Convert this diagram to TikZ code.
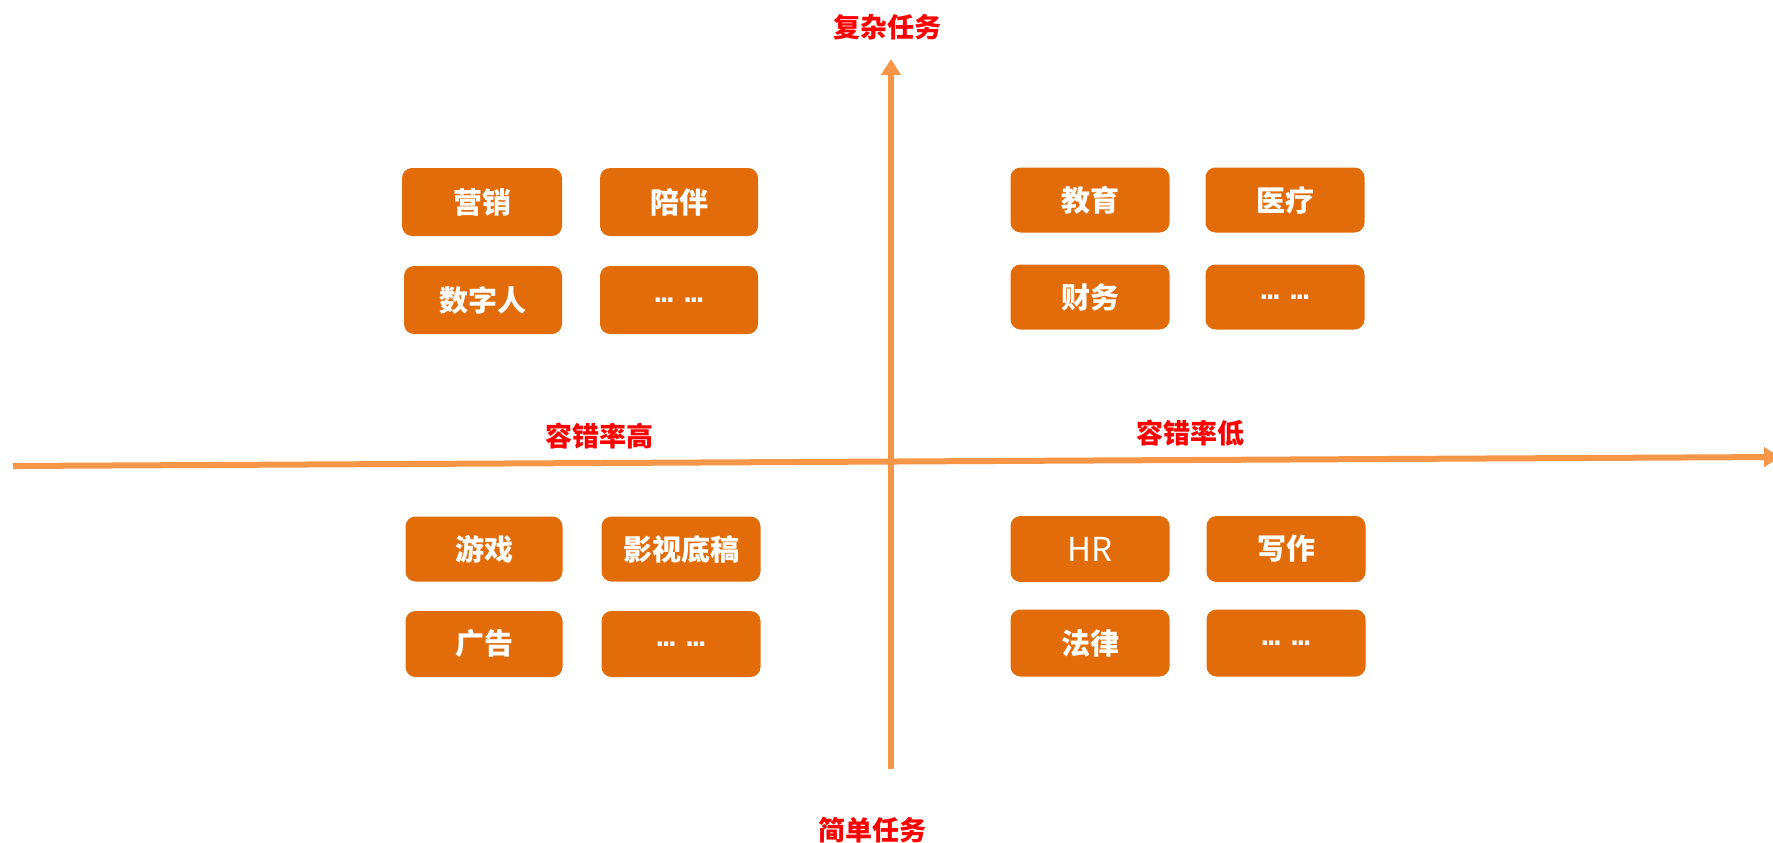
\documentclass[tikz,border=0pt]{standalone}
\usepackage{fontspec}
\setmainfont{Noto Sans CJK SC}
\newfontfamily\dotfont[LetterSpace=-12]{DejaVu Sans Bold}
\usetikzlibrary{arrows.meta}
\definecolor{boxfill}{HTML}{E36C0A}
\definecolor{axiscol}{HTML}{F79646}
\definecolor{labred}{HTML}{FF0000}
\newcommand{\moredots}{{\dotfont\fontsize{24}{26}\selectfont ...\hspace{8pt}...}}
\tikzset{
  tag/.style={fill=boxfill, rounded corners=10pt, minimum width=159pt, minimum height=66pt,
    inner sep=0pt, text=white, font=\fontsize{29}{32}\selectfont\bfseries},
  axislabel/.style={text=labred, font=\fontsize{27}{30}\selectfont\bfseries, inner sep=0pt},
  axisline/.style={draw=axiscol, line width=6pt, -{Triangle[width=19pt,length=16pt]}},
}
\begin{document}
\begin{tikzpicture}[x=1pt,y=-1pt]
\useasboundingbox (0,0) rectangle (1773,843);
% axes
\coordinate (vbot) at (891,769);
\coordinate (vtop) at (891,59);
\coordinate (hleft) at (13,466);
\coordinate (hright) at (1780,457);
\draw[axisline] (vbot) -- (vtop);
\draw[axisline] (hleft) -- (hright);
% axis labels
\node[axislabel] (complex) at (887,27) {复杂任务};
\node[axislabel] (simple) at (872,830) {简单任务};
\node[axislabel] (high) at (599,436) {容错率高};
\node[axislabel] (low) at (1190,433) {容错率低};
% top-left
\node[tag, minimum width=160pt, minimum height=68pt] (yx) at (482,202) {营销};
\node[tag, minimum width=158pt, minimum height=68pt] (pb) at (679,202) {陪伴};
\node[tag, minimum width=158pt, minimum height=68pt] (szr) at (483,300) {数字人};
\node[tag, minimum width=158pt, minimum height=68pt] (tl) at (679,300) {\moredots};
% top-right
\node[tag, minimum height=65pt] (jy) at (1090,200) {教育};
\node[tag, minimum height=65pt] (yl) at (1285,200) {医疗};
\node[tag, minimum height=65pt] (cw) at (1090,297) {财务};
\node[tag, minimum height=65pt] (tr) at (1285,297) {\moredots};
% bottom-left
\node[tag, minimum width=157pt, minimum height=65pt] (yxi) at (484,549) {游戏};
\node[tag, minimum height=65pt] (ys) at (681,549) {影视底稿};
\node[tag, minimum width=157pt, minimum height=66pt] (gg) at (484,644) {广告};
\node[tag, minimum height=66pt] (bl) at (681,644) {\moredots};
% bottom-right
\node[tag, minimum height=66pt, font=\fontsize{33}{36}\selectfont] (hr) at (1090,549) {HR};
\node[tag, minimum height=66pt] (xz) at (1286,549) {写作};
\node[tag, minimum height=67pt] (fl) at (1090,643) {法律};
\node[tag, minimum height=67pt] (br) at (1286,643) {\moredots};
\end{tikzpicture}
\end{document}
